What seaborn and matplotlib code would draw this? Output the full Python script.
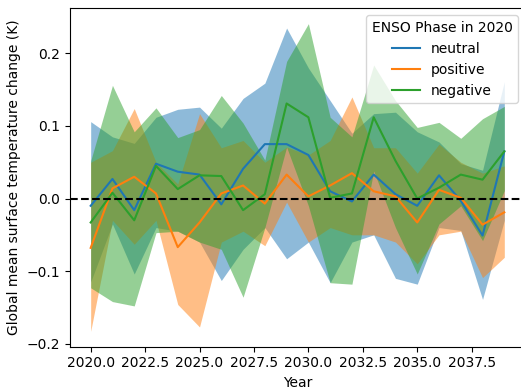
import numpy as np
import pandas as pd
import seaborn as sns
import matplotlib
matplotlib.use("Agg")
import matplotlib.pyplot as plt

# years of the projection
years = list(range(2020, 2040))

# neutral ENSO phase: mean and band
neutral_mean = [-0.010, 0.027, -0.016, 0.048, 0.037, 0.033, -0.008, 0.041, 0.075, 0.075,
                0.060, 0.010, -0.004, 0.033, 0.006, -0.010, 0.032, -0.003, -0.051, 0.065]
neutral_lo = [-0.115, -0.035, -0.104, -0.040, -0.045, -0.060, -0.113, -0.070, -0.040, -0.083,
              -0.060, -0.116, -0.060, -0.050, -0.110, -0.118, -0.040, -0.044, -0.139, -0.030]
neutral_hi = [0.106, 0.085, 0.076, 0.112, 0.123, 0.126, 0.097, 0.138, 0.159, 0.235,
              0.180, 0.135, 0.090, 0.117, 0.119, 0.092, 0.078, 0.048, 0.039, 0.161]

# positive ENSO phase
positive_mean = [-0.068, 0.014, 0.030, 0.007, -0.067, -0.033, 0.007, 0.018, -0.007, 0.033,
                 0.003, 0.018, 0.035, 0.010, 0.003, -0.033, 0.012, 0.001, -0.036, -0.019]
positive_lo = [-0.183, -0.030, -0.063, -0.030, -0.146, -0.177, -0.060, -0.045, -0.065, -0.005,
               -0.060, -0.040, -0.050, -0.050, -0.060, -0.090, -0.050, -0.045, -0.109, -0.081]
positive_hi = [0.050, 0.066, 0.124, 0.050, 0.020, 0.117, 0.070, 0.080, 0.050, 0.071,
               0.060, 0.080, 0.140, 0.070, 0.070, 0.035, 0.075, 0.050, 0.035, 0.045]

# negative ENSO phase
negative_mean = [-0.033, 0.008, -0.030, 0.045, 0.013, 0.032, 0.031, -0.016, 0.006, 0.131,
                 0.112, 0.001, 0.007, 0.112, 0.052, 0.000, 0.015, 0.033, 0.026, 0.065]
negative_lo = [-0.123, -0.142, -0.148, -0.047, -0.045, -0.060, -0.070, -0.136, -0.040, 0.071,
               -0.010, -0.116, -0.118, 0.038, -0.040, -0.104, -0.035, -0.010, -0.058, 0.011]
negative_hi = [0.052, 0.156, 0.092, 0.125, 0.084, 0.095, 0.142, 0.104, 0.053, 0.189,
               0.241, 0.112, 0.085, 0.184, 0.135, 0.098, 0.105, 0.083, 0.110, 0.127]

phases = ['neutral', 'positive', 'negative']

# Build long table
frames = []
for name, m, lo, hi in [('neutral', neutral_mean, neutral_lo, neutral_hi),
                        ('positive', positive_mean, positive_lo, positive_hi),
                        ('negative', negative_mean, negative_lo, negative_hi)]:
    frames.append(pd.DataFrame({'Year': years, 'mean': m, 'lo': lo, 'hi': hi, 'phase': name}))
df = pd.concat(frames, ignore_index=True)

colors = sns.color_palette('tab10', 3)

fig = plt.figure(figsize=(5.21, 3.89), dpi=100)
# axes run slightly past the right edge, like the cropped original
ax = fig.add_axes([70 / 521, 1 - 346.7 / 389, 455 / 521, 338.4 / 389])

sns.lineplot(data=df, x='Year', y='mean', hue='phase', hue_order=phases,
             palette=colors, ax=ax)

for phase, c in zip(phases, colors):
    sub = df[df['phase'] == phase]
    ax.fill_between(sub['Year'], sub['lo'], sub['hi'], color=c, alpha=0.5, linewidth=0)

ax.axhline(0, color='black', linestyle='--')

ax.set_xlabel('Year')
ax.set_ylabel('Global mean surface temperature change (K)')
ax.legend(title='ENSO Phase in 2020', loc='upper right')

fig.savefig('out.png', dpi=100)
